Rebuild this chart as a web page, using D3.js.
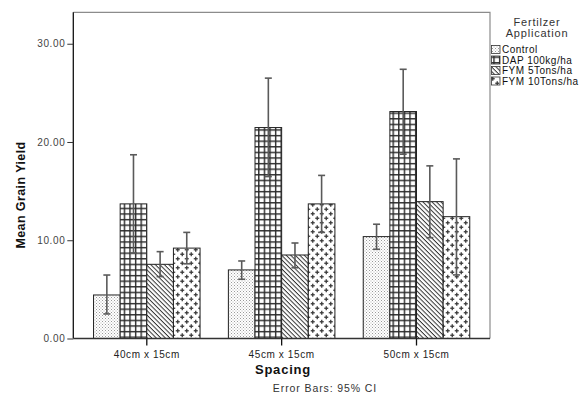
<!DOCTYPE html>
<html>
<head>
<meta charset="utf-8">
<script src="https://cdn.jsdelivr.net/npm/d3@7"></script>
<style>
  html, body { margin: 0; padding: 0; background: #fff; }
  svg { display: block; font-family: "Liberation Sans", Arial, sans-serif; }
</style>
</head>
<body>
<svg id="chart" width="585" height="398"></svg>
<script>
// Spacing groups and fertilizer treatments
const spacings = ["40cm x 15cm", "45cm x 15cm", "50cm x 15cm"];
const treatments = ["Control", "DAP 100kg/ha", "FYM 5Tons/ha", "FYM 10Tons/ha"];

// Mean grain yield per spacing (one array per treatment)
const control = [4.43, 6.98, 10.37];
const dap = [13.7, 21.47, 23.1];
const fym5 = [7.55, 8.5, 13.93];
const fym10 = [9.2, 13.7, 12.4];

// 95% CI bounds per treatment
const controlLo = [2.5, 6.03, 9.08];
const controlHi = [6.46, 7.89, 11.63];
const dapLo = [8.7, 16.48, 18.76];
const dapHi = [18.7, 26.5, 27.4];
const fym5Lo = [6.3, 7.2, 10.26];
const fym5Hi = [8.84, 9.72, 17.57];
const fym10Lo = [7.6, 10.8, 6.47];
const fym10Hi = [10.8, 16.6, 18.28];

const yTicks = [0, 10, 20, 30];

const seriesMeans = [control, dap, fym5, fym10];
const seriesLo = [controlLo, dapLo, fym5Lo, fym10Lo];
const seriesHi = [controlHi, dapHi, fym5Hi, fym10Hi];

const rows = [];
spacings.forEach((s, i) => {
  treatments.forEach((t, j) => {
    rows.push({ spacing: s, treatment: t, idx: j,
      mean: seriesMeans[j][i], lo: seriesLo[j][i], hi: seriesHi[j][i] });
  });
});

const svg = d3.select("#chart");
const plotL = 73.3, plotR = 490, plotT = 12.3, plotB = 338.5;

const x0 = d3.scaleBand().domain(spacings).range([plotL, plotR])
  .paddingInner(0.21).paddingOuter(0.15);
const x1 = d3.scaleBand().domain(treatments).range([0, x0.bandwidth()]);
const y = d3.scaleLinear().domain([0, 33.2]).range([plotB, plotT]);

// Fill patterns for each treatment
const defs = svg.append("defs");

const pDot = defs.append("pattern").attr("id", "pat0")
  .attr("patternUnits", "userSpaceOnUse").attr("width", 3).attr("height", 3);
pDot.append("rect").attr("width", 3).attr("height", 3).attr("fill", "#fff");
pDot.append("rect").attr("x", 0).attr("y", 0).attr("width", 1).attr("height", 1).attr("fill", "#9a9a9a");
pDot.append("rect").attr("x", 1.5).attr("y", 1.5).attr("width", 1).attr("height", 1).attr("fill", "#b0b0b0");

const pGrid = defs.append("pattern").attr("id", "pat1")
  .attr("patternUnits", "userSpaceOnUse").attr("width", 5.6).attr("height", 5.6)
  .attr("x", 0.5).attr("y", 0.5);
pGrid.append("rect").attr("width", 5.6).attr("height", 5.6).attr("fill", "#fff");
pGrid.append("rect").attr("x", 0).attr("y", 0).attr("width", 5.6).attr("height", 1.4).attr("fill", "#2a2a2a");
pGrid.append("rect").attr("x", 0).attr("y", 0).attr("width", 1.4).attr("height", 5.6).attr("fill", "#2a2a2a");

const pDiag = defs.append("pattern").attr("id", "pat2")
  .attr("patternUnits", "userSpaceOnUse").attr("width", 3.2).attr("height", 3.2)
  .attr("patternTransform", "rotate(45)");
pDiag.append("rect").attr("width", 3.2).attr("height", 3.2).attr("fill", "#fff");
pDiag.append("rect").attr("x", 0).attr("y", 0).attr("width", 3.2).attr("height", 1).attr("fill", "#333");

const pPlus = defs.append("pattern").attr("id", "pat3")
  .attr("patternUnits", "userSpaceOnUse").attr("width", 9).attr("height", 9);
pPlus.append("rect").attr("width", 9).attr("height", 9).attr("fill", "#fff");
[[2.25, 2.25], [6.75, 6.75]].forEach(([cx, cy]) => {
  pPlus.append("rect").attr("x", cx - 2).attr("y", cy - 0.65).attr("width", 4).attr("height", 1.3).attr("fill", "#3a3a3a");
  pPlus.append("rect").attr("x", cx - 0.65).attr("y", cy - 2).attr("width", 1.3).attr("height", 4).attr("fill", "#3a3a3a");
});

// Plot frame (top and right sides)
svg.append("path")
  .attr("d", `M${plotL},${plotT}H${plotR}V${plotB}`)
  .attr("fill", "none").attr("stroke", "#8c8c8c").attr("stroke-width", 1.2);

// Bars
svg.append("g").selectAll("rect").data(rows).join("rect")
  .attr("x", d => x0(d.spacing) + x1(d.treatment))
  .attr("y", d => y(d.mean))
  .attr("width", x1.bandwidth())
  .attr("height", d => y(0) - y(d.mean))
  .attr("fill", d => `url(#pat${d.idx})`)
  .attr("stroke", "#222").attr("stroke-width", 1);

// Error bars (95% CI)
const eb = svg.append("g").attr("stroke", "#5a5a5a").attr("stroke-width", 1.6);
rows.forEach(d => {
  const cx = x0(d.spacing) + x1(d.treatment) + x1.bandwidth() / 2;
  eb.append("line").attr("x1", cx).attr("x2", cx).attr("y1", y(d.lo)).attr("y2", y(d.hi));
  eb.append("line").attr("x1", cx - 3.5).attr("x2", cx + 3.5).attr("y1", y(d.lo)).attr("y2", y(d.lo));
  eb.append("line").attr("x1", cx - 3.5).attr("x2", cx + 3.5).attr("y1", y(d.hi)).attr("y2", y(d.hi));
});

// Y axis
const yAxis = svg.append("g").attr("transform", `translate(${plotL},0)`)
  .call(d3.axisLeft(y).tickValues(yTicks).tickFormat(d3.format(".2f")).tickSize(6).tickPadding(2));
yAxis.select(".domain").attr("d", `M0,${plotT}V${plotB}`).attr("stroke", "#111").attr("stroke-width", 1.3);
yAxis.selectAll(".tick line").attr("stroke", "#333");
yAxis.selectAll(".tick text").attr("font-size", 10).attr("fill", "#444")
  .attr("letter-spacing", 0.6)
  .attr("font-family", "Liberation Sans, Arial, sans-serif");

// X axis
const xAxis = svg.append("g").attr("transform", `translate(0,${plotB})`)
  .call(d3.axisBottom(x0).tickSize(7).tickPadding(5));
xAxis.select(".domain").attr("d", `M${plotL},0H${plotR}`).attr("stroke", "#333").attr("stroke-width", 1.3);
xAxis.selectAll(".tick line").attr("stroke", "#111").attr("stroke-width", 1.3);
xAxis.selectAll(".tick text").attr("font-size", 10).attr("fill", "#222")
  .attr("letter-spacing", 0.6)
  .attr("font-family", "Liberation Sans, Arial, sans-serif");

// Axis titles
svg.append("text").attr("transform", "translate(25,195) rotate(-90)")
  .attr("text-anchor", "middle").attr("font-size", 12.5).attr("font-weight", "bold")
  .attr("letter-spacing", 0.4).attr("fill", "#111").text("Mean Grain Yield");
svg.append("text").attr("x", 283).attr("y", 373.5).attr("text-anchor", "middle")
  .attr("font-size", 13).attr("font-weight", "bold").attr("letter-spacing", 0.8)
  .attr("fill", "#111").text("Spacing");
svg.append("text").attr("x", 325).attr("y", 392).attr("text-anchor", "middle")
  .attr("font-size", 10.5).attr("letter-spacing", 0.9).attr("fill", "#333").text("Error Bars: 95% CI");

// Legend
const lg = svg.append("g");
lg.append("text").attr("x", 537).attr("y", 26).attr("text-anchor", "middle")
  .attr("font-size", 11).attr("letter-spacing", 0.8).attr("fill", "#333").text("Fertilzer");
lg.append("text").attr("x", 537).attr("y", 37).attr("text-anchor", "middle")
  .attr("font-size", 11).attr("letter-spacing", 0.8).attr("fill", "#333").text("Application");
treatments.forEach((t, j) => {
  const yy = 45.5 + j * 10.5;
  lg.append("rect").attr("x", 491.5).attr("y", yy).attr("width", 8.5).attr("height", 8)
    .attr("fill", `url(#pat${j})`).attr("stroke", "#333").attr("stroke-width", 0.8);
  lg.append("text").attr("x", 502).attr("y", yy + 7.8).attr("font-size", 10)
    .attr("letter-spacing", 0.5).attr("fill", "#111").text(t);
});
</script>
</body>
</html>
